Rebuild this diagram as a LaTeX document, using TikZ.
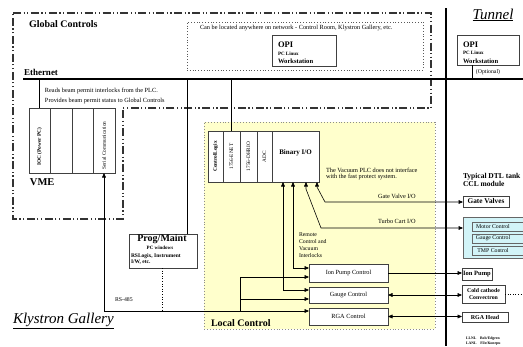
\documentclass[tikz,border=0pt]{standalone}
\usepackage{fontspec}
\setmainfont{Liberation Serif}
\usetikzlibrary{arrows.meta,calc}
\definecolor{yell}{HTML}{FFFFCC}
\definecolor{cyanf}{HTML}{D2F4F8}
\begin{document}
\begin{tikzpicture}[x=1pt,y=-1pt,
  every node/.style={inner sep=0pt,outer sep=0pt},
  ln/.style={line width=0.6pt,draw=black},
  arr/.style={ln,-{Triangle[length=4.5pt,width=3.8pt]}},
  arrb/.style={ln,{Triangle[length=4.5pt,width=3.8pt]}-{Triangle[length=4.5pt,width=3.8pt]}},
  bx/.style={draw=black!75,line width=0.6pt,anchor=north west,fill=white},
  sm/.style={font=\fontsize{6.3}{7}\selectfont},
  smb/.style={font=\bfseries\fontsize{6.5}{7}\selectfont},
  rot/.style={rotate=90,font=\fontsize{5.3}{6}\selectfont},
  head/.style={font=\bfseries\fontsize{10}{12}\selectfont},
  big/.style={font=\itshape\fontsize{15}{16}\selectfont},
  ddd/.style={line width=1.1pt,draw=black!80,dash pattern=on 8pt off 2.5pt on 1.2pt off 2.5pt on 1.2pt off 2.5pt},
]
\path[use as bounding box,clip] (0,0) rectangle (523,346);
\fill[white] (0,0) rectangle (523,346);

% ---------- regions ----------
\node[draw=black!45,dotted,line width=0.9pt,fill=yell,anchor=north west,minimum width=231pt,minimum height=207pt] (local) at (204,122) {};
\draw[ddd] (13,13) -- (431,13) -- (431,108) -- (123,108) -- (123,219) -- (13,219) -- cycle;
\node[draw=black!65,dotted,line width=0.8pt,anchor=north west,minimum width=236pt,minimum height=48pt] (note) at (187,22) {};
\node[sm,anchor=west] (notetxt) at (200,28) {Can be located anywhere on network - Control Room, Klystron Gallery, etc.};

\node[head,anchor=west] (gc) at (29,24) {Global Controls};
\node[big,anchor=center] (tun) at (493,15) {\underline{Tunnel}};
\node[big,anchor=west] (kg) at (13,321) {\underline{Klystron Gallery}};
\node[head,anchor=west] (lc) at (211,323) {Local Control};

% ---------- Ethernet and tunnel lines ----------
\coordinate (ethL) at (23,79);
\coordinate (ethR) at (523,79);
\coordinate (tunT) at (446,8);
\coordinate (tunB) at (446,346);
\draw[line width=1.8pt] (ethL) -- (ethR);
\draw[line width=2.6pt] (tunT) -- (tunB);
\node[font=\bfseries\fontsize{9}{10}\selectfont,anchor=west] (eth) at (24,72) {Ethernet};

% ---------- OPI boxes ----------
\node[bx,minimum width=64pt,minimum height=31pt] (opi) at (272,35) {};
\node[font=\bfseries\fontsize{8.5}{9}\selectfont,anchor=west] (opi1) at (278,45) {OPI};
\node[font=\bfseries\fontsize{5}{6}\selectfont,anchor=west] (opi2) at (278,54) {PC Linux};
\node[font=\bfseries\fontsize{6.6}{7}\selectfont,anchor=west] (opi3) at (278,61) {Workstation};

\node[bx,minimum width=62pt,minimum height=30pt] (topi) at (457,35) {};
\node[font=\bfseries\fontsize{8.5}{9}\selectfont,anchor=west] (topi1) at (463,45) {OPI};
\node[font=\bfseries\fontsize{5}{6}\selectfont,anchor=west] (topi2) at (463,53) {PC Linux};
\node[font=\bfseries\fontsize{6.6}{7}\selectfont,anchor=west] (topi3) at (463,61.5) {Workstation};
\node[font=\fontsize{5.8}{6}\selectfont] (optl) at (488,72) {(Optional)};

% ---------- VME rack ----------
\node[bx,minimum width=21pt,minimum height=65pt] (vme1) at (29,108) {};
\node[bx,minimum width=22pt,minimum height=65pt] (vme2) at (50,108) {};
\node[bx,minimum width=21pt,minimum height=65pt] (vme3) at (72,108) {};
\node[bx,minimum width=22pt,minimum height=65pt] (vme4) at (93,108) {};
\node[rot,font=\bfseries\fontsize{5.3}{6}\selectfont] (vmet1) at ($(vme1.center)+(0,6)$) {IOC (Power PC)};
\node[rot] (vmet4) at ($(vme4.center)+(0,5)$) {Serial Communication};
\node[head,font=\bfseries\fontsize{10.5}{12}\selectfont,anchor=west] (vmel) at (30,182) {VME};
\node[sm,anchor=west] (rd1) at (45,91) {Reads beam permit interlocks from the PLC.};
\node[sm,anchor=west] (rd2) at (45,100.5) {Provides beam permit status to Global Controls};

% ---------- Prog/Maint ----------
\node[bx,minimum width=68pt,minimum height=34pt] (prog) at (129,234) {};
\node[head,anchor=center] (pg1) at (162,239.5) {Prog/Maint};
\node[font=\bfseries\fontsize{5}{6}\selectfont] (pg2) at (160,248) {PC windows};
\node[font=\bfseries\fontsize{5.5}{6}\selectfont,anchor=west] (pg3) at (131,256.5) {RSLogix, Instrument};
\node[font=\bfseries\fontsize{5.5}{6}\selectfont,anchor=west] (pg4) at (131,262.5) {I/W, etc.};
\node[font=\fontsize{5.8}{6}\selectfont,anchor=west] (rs) at (115,300) {RS-485};

% ---------- ControlLogix rack ----------
\node[bx,minimum width=15pt,minimum height=51pt] (cl1) at (208,131) {};
\node[bx,minimum width=17pt,minimum height=51pt] (enet) at (223,131) {};
\node[bx,minimum width=17pt,minimum height=51pt] (dh) at (240,131) {};
\node[bx,minimum width=15pt,minimum height=51pt] (adc) at (257,131) {};
\node[bx,minimum width=47pt,minimum height=51pt,font=\bfseries\fontsize{7}{8}\selectfont] (bin) at (272,131) {\raisebox{8pt}{Binary I/O}};
\node[rot,font=\bfseries\fontsize{5.3}{6}\selectfont] (clt) at (cl1.center) {ControlLogix};
\node[rot] (enett) at (enet.center) {1756-ENET};
\node[rot] (dht) at (dh.center) {1756-DHRIO};
\node[rot] (adct) at (adc.center) {ADC};

\node[sm,anchor=west] (vp1) at (326,170) {The Vacuum PLC does not interface};
\node[sm,anchor=west] (vp2) at (326,177) {with the fast protect system.};
\node[sm,anchor=west] (gvl) at (378,196) {Gate Valve I/O};
\node[sm,anchor=west] (tcl) at (378,221) {Turbo Cart I/O};
\node[font=\fontsize{5.8}{6}\selectfont,anchor=west] (rc1) at (299,235) {Remote};
\node[font=\fontsize{5.8}{6}\selectfont,anchor=west] (rc2) at (299,242) {Control and};
\node[font=\fontsize{5.8}{6}\selectfont,anchor=west] (rc3) at (299,249) {Vacuum};
\node[font=\fontsize{5.8}{6}\selectfont,anchor=west] (rc4) at (299,256) {Interlocks};

% ---------- local control boxes ----------
\node[bx,sm,minimum width=79pt,minimum height=18pt] (ionc) at (309,264) {Ion Pump Control};
\node[bx,sm,minimum width=79pt,minimum height=16pt] (gaugec) at (309,287) {Gauge Control};
\node[bx,sm,minimum width=79pt,minimum height=17pt] (rgac) at (309,308) {RGA Control};

% ---------- tunnel devices ----------
\node[font=\bfseries\fontsize{7.5}{8}\selectfont,anchor=west] (dtl1) at (463,176.5) {Typical DTL tank};
\node[font=\bfseries\fontsize{7.5}{8}\selectfont,anchor=west] (dtl2) at (463,184) {CCL module};
\node[bx,smb,font=\bfseries\fontsize{7.3}{8}\selectfont,minimum width=46pt,minimum height=11pt] (gv) at (463,196) {Gate Valves};
\node[bx,fill=cyanf,draw=black!60,minimum width=70pt,minimum height=41pt] (turbo) at (463,217) {};
\node[bx,fill=cyanf,draw=black!60,minimum width=60pt,minimum height=9pt] (motor) at (472,222) {};
\node[bx,fill=cyanf,draw=black!60,minimum width=60pt,minimum height=9pt] (tgauge) at (472,234) {};
\node[bx,fill=cyanf,draw=black!60,minimum width=60pt,minimum height=9pt] (tmp) at (472,246) {};
\node[font=\fontsize{5.8}{6}\selectfont] (motort) at (493,226.5) {Motor Control};
\node[font=\fontsize{5.8}{6}\selectfont] (tgaget) at (493,238.5) {Gauge Control};
\node[font=\fontsize{5.8}{6}\selectfont] (tmpt) at (493,250.5) {TMP Control};
\node[bx,smb,minimum width=30pt,minimum height=12pt] (ionp) at (462,268) {Ion Pump};
\node[bx,font=\bfseries\fontsize{5.8}{6.5}\selectfont,align=center,minimum width=43pt,minimum height=18pt] (cc) at (462,285) {Cold cathode\\Convectron};
\node[bx,smb,font=\bfseries\fontsize{6}{7}\selectfont,minimum width=46pt,minimum height=10pt] (rgah) at (462,312) {RGA Head};
\node[font=\bfseries\fontsize{3.8}{4}\selectfont,anchor=west] (ft1) at (466,339) {LLNL\quad Bob/Edgren};
\node[font=\bfseries\fontsize{3.8}{4}\selectfont,anchor=west] (ft2) at (466,344) {LANL\quad File/Konrpu};

% ---------- connectors ----------
\draw[ln] ($(opi.south west)+(21,0)$) -- ($(opi.south west)+(21,0)$ |- ethL);
\coordinate (tc) at ($(topi.south west)+(15,0)$);
\draw[ln] (tc) -- (tc |- ethL);
\draw[ln] (vme1.north) -- (vme1.north |- ethL);
\coordinate (pc) at ($(prog.north west)+(58,0)$);
\draw[ln] (pc) -- (pc |- ethL);
\draw[ln] (enet.north) -- (enet.north |- ethL);

% RS-485 bus
\coordinate (bus) at (240,311);
\coordinate (i2) at ($(ionc.north west)+(0,13)$);
\coordinate (g2) at ($(gaugec.north west)+(0,12)$);
\draw[arr] (vme4.south |- bus) -- (vme4.south);
\draw[arr] (vme4.south |- bus) -- (rgac.west |- bus);
\draw[arr] (bus) |- (i2);
\draw[arr] (bus |- g2) -- (g2);
\coordinate (pd) at ($(prog.south west)+(33,0)$);
\draw[ln,dotted] (pd) -- (pd |- bus);

% Binary I/O lines
\draw[arrb] ($(bin.south west)+(11,0)$) |- ($(gaugec.north west)+(0,3)$);
\draw[arrb] ($(bin.south west)+(21,0)$) |- ($(ionc.north west)+(0,4)$);
\coordinate (tcb) at (321,228);
\draw[arrb] ($(bin.south west)+(34,0)$) -- ++(0,7) -- (tcb) -- (turbo.west |- tcb);
\coordinate (gvb) at (325,202);
\draw[arrb] ($(bin.south west)+(45,0)$) -- ++(0,5) -- (gvb) -- (gv.west |- gvb);

% tunnel connections
\draw[arr] (ionc.east) -- (ionc.east -| ionp.west);
\draw[arrb] (gaugec.east) -- (gaugec.east -| cc.west);
\draw[ln,dotted] (cc.east) -- ++(30,0);
\draw[arrb] (rgac.east) -- (rgac.east -| rgah.west);
\end{tikzpicture}
\end{document}
